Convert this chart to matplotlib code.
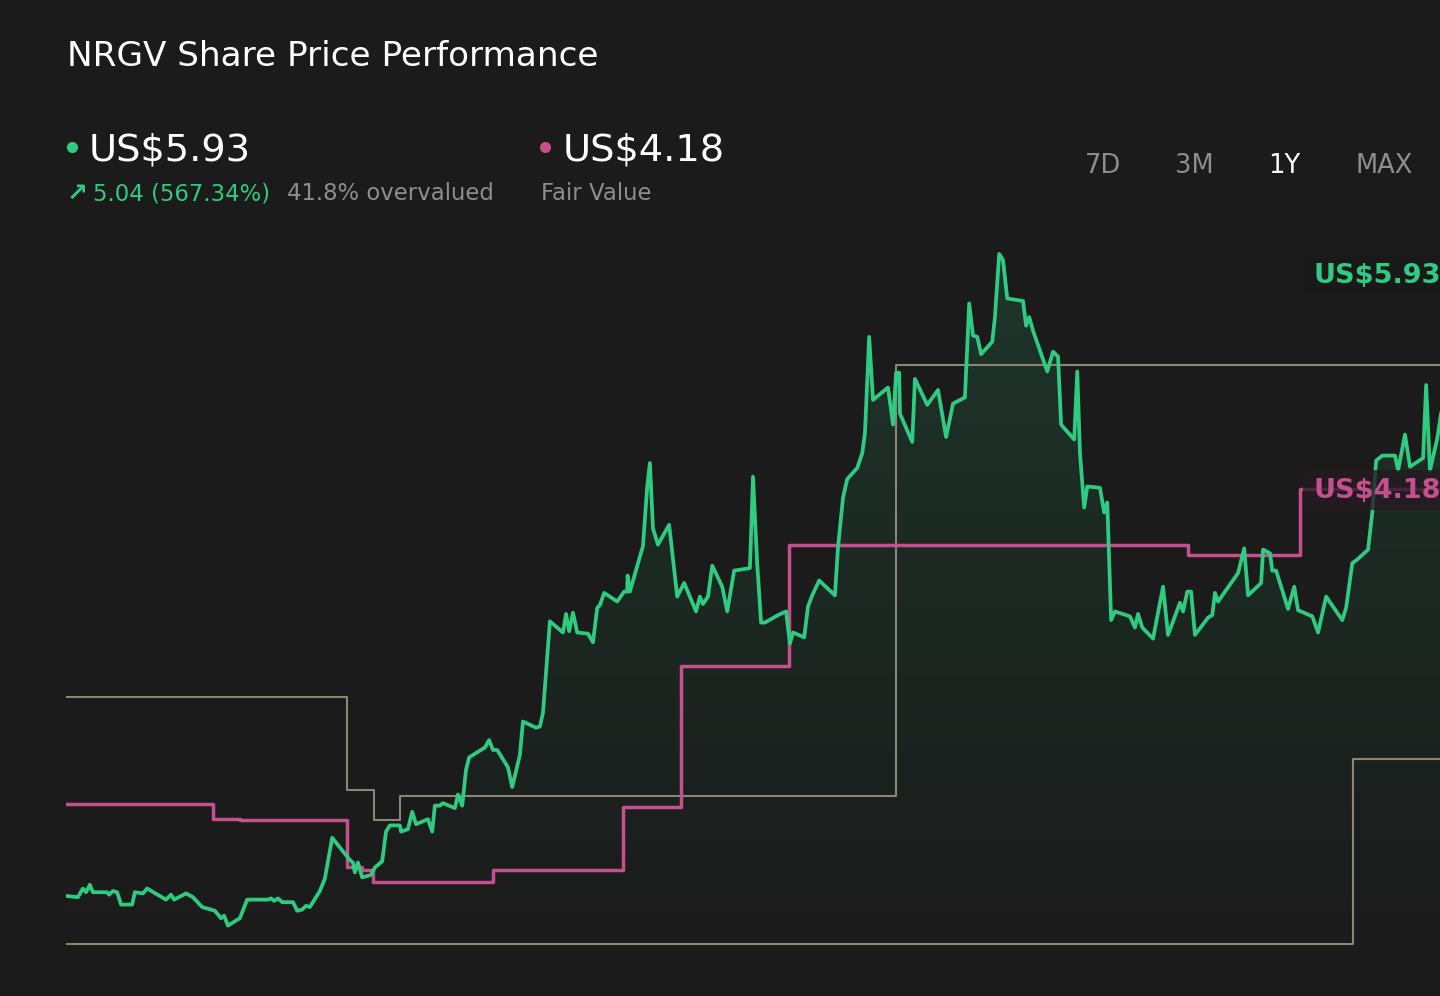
import numpy as np
import matplotlib
matplotlib.use("Agg")
import matplotlib.pyplot as plt
from matplotlib.lines import Line2D
from matplotlib.patches import FancyBboxPatch

# share price, days since start of the 1Y window
price_day = [0, 3.1, 4.4, 5.2, 6.2, 7.0, 10.7, 11.2, 12.2, 13.3,
             14.3, 17.2, 17.9, 20.0, 21.1, 26.0, 27.3, 28.1, 31.2, 33.0,
             35.4, 38.7, 40.3, 41.1, 42.1, 45.2, 47.1, 52.5, 53.3, 54.1,
             55.1, 56.2, 59.0, 60.1, 61.4, 62.4, 63.4, 66.0, 67.3, 69.2,
             73.8, 74.6, 75.1, 75.9, 77.0, 79.3, 80.3, 82.2, 83.2, 84.2,
             86.8, 87.1, 88.9, 90.0, 91.0, 94.1, 95.2, 95.9, 97.2, 98.0,
             101.1, 101.9, 103.0, 104.0, 104.8, 108.9, 110.0, 111.0, 112.1, 114.9,
             116.0, 118.0, 118.8, 122.2, 123.2, 124.0, 125.8, 129.2, 130.0, 130.8,
             131.8, 132.9, 135.7, 137.0, 138.1, 138.8, 139.9, 143.3, 145.1, 145.9,
             146.0, 146.6, 150.0, 151.1, 151.8, 152.6, 153.9, 156.8, 158.9, 160.7,
             163.8, 164.8, 165.6, 166.9, 168.0, 170.6, 171.9, 173.7, 177.8, 178.6,
             179.7, 180.7, 181.7, 185.1, 187.2, 188.2, 189.0, 191.9, 192.9, 194.0,
             195.8, 199.2, 199.9, 200.7, 202.0, 203.1, 205.7, 207.0, 207.7, 208.8,
             209.8, 213.7, 215.0, 215.8, 216.6, 216.8, 220.0, 220.7, 223.9, 226.7,
             228.8, 230.6, 233.7, 234.8, 235.8, 236.9, 237.9, 240.8, 241.5, 242.6,
             243.6, 244.7, 248.8, 249.6, 250.4, 251.4, 255.1, 256.6, 257.9, 258.7,
             262.1, 262.9, 263.6, 264.7, 265.5, 268.8, 269.9, 270.7, 271.7, 272.7,
             276.6, 277.9, 278.7, 279.8, 282.6, 285.2, 286.5, 289.6, 290.4, 291.5,
             292.5, 293.5, 296.9, 298.0, 298.7, 299.5, 304.7, 306.3, 307.3, 310.7,
             311.2, 313.0, 313.6, 314.6, 317.7, 319.3, 320.3, 324.0, 325.5, 327.6,
             331.8, 332.8, 334.4, 335.7, 338.5, 339.6, 340.6, 342.2, 345.5, 346.3,
             348.1, 349.4, 352.8, 353.6, 354.6, 356.5, 363.0]
price = [0.89, 0.88, 0.95, 0.92, 0.98, 0.92, 0.92, 0.90, 0.93, 0.92,
         0.82, 0.82, 0.92, 0.91, 0.95, 0.86, 0.90, 0.86, 0.91, 0.88,
         0.80, 0.77, 0.71, 0.73, 0.65, 0.71, 0.86, 0.86, 0.87, 0.85,
         0.87, 0.84, 0.84, 0.77, 0.78, 0.81, 0.80, 0.93, 1.03, 1.36,
         1.18, 1.16, 1.08, 1.16, 1.04, 1.06, 1.12, 1.17, 1.41, 1.46,
         1.46, 1.41, 1.43, 1.57, 1.47, 1.51, 1.41, 1.62, 1.62, 1.64,
         1.60, 1.71, 1.62, 1.91, 2.01, 2.09, 2.15, 2.07, 2.07, 1.93,
         1.77, 2.03, 2.30, 2.25, 2.26, 2.37, 3.11, 3.02, 3.17, 3.03,
         3.18, 3.02, 3.01, 2.94, 3.22, 3.24, 3.34, 3.27, 3.35, 3.35,
         3.48, 3.35, 3.72, 4.20, 4.39, 3.86, 3.73, 3.89, 3.31, 3.42,
         3.19, 3.31, 3.25, 3.31, 3.56, 3.39, 3.19, 3.52, 3.54, 4.28,
         3.57, 3.10, 3.10, 3.16, 3.19, 2.93, 3.02, 2.98, 3.23, 3.32,
         3.44, 3.34, 3.32, 3.71, 4.11, 4.26, 4.35, 4.47, 4.63, 5.41,
         4.90, 5.00, 4.70, 5.12, 5.12, 4.79, 4.56, 5.07, 4.86, 4.98,
         4.60, 4.87, 4.92, 5.68, 5.42, 5.41, 5.27, 5.37, 5.57, 6.08,
         6.03, 5.72, 5.70, 5.50, 5.57, 5.46, 5.13, 5.29, 5.25, 4.70,
         4.58, 5.13, 4.47, 4.03, 4.20, 4.19, 3.99, 4.07, 3.12, 3.19,
         3.15, 3.06, 3.17, 3.06, 2.97, 3.39, 3.00, 3.26, 3.19, 3.35,
         3.35, 3.00, 3.14, 3.16, 3.34, 3.27, 3.50, 3.70, 3.32, 3.42,
         3.69, 3.66, 3.52, 3.52, 3.21, 3.39, 3.20, 3.15, 3.02, 3.31,
         3.12, 3.22, 3.58, 3.61, 3.69, 3.99, 4.41, 4.45, 4.45, 4.33,
         4.62, 4.36, 4.43, 5.02, 4.33, 4.59, 5.93]

# fair value estimate (step changes)
fv_day = [0, 38.2, 45.2, 73.1, 77.0, 79.8, 111.0, 144.8, 159.9, 188.0, 291.7, 320.8, 363.0]
fv_value = [1.63, 1.51, 1.50, 1.12, 1.10, 1.00, 1.10, 1.61, 2.75, 3.73, 3.65, 4.18, 4.18]

# analyst target range (step changes)
hi_day = [0, 73.1, 80.1, 86.8, 215.8, 363.0]
hi_value = [2.50, 1.75, 1.50, 1.70, 5.18, 5.18]
lo_day = [0, 334.6, 363.0]
lo_value = [0.50, 2.00, 2.00]

title = "NRGV Share Price Performance"
last_price = "US$5.93"
fair_value = "US$4.18"
change_text = "5.04 (567.34%)"
valuation_text = "41.8% overvalued"
periods = ["7D", "3M", "1Y", "MAX"]
active_period = "1Y"

BG = "#1b1b1b"
GREEN = "#2fcb80"
PINK = "#c4508e"
GREY_LINE = "#8b8777"
GREY_TEXT = "#8e8e8e"

W, H = 1440, 996
fig = plt.figure(figsize=(W / 100, H / 100), dpi=100, facecolor=BG)


def fx(x):
    return x / W


def fy(y):
    return 1 - y / H


ax = fig.add_axes([fx(66), 0, 1 - fx(66), 1])
ax.set_facecolor(BG)
ax.set_xlim(0, 357.2)
ax.set_ylim(0.081, 8.133)
ax.axis("off")

# gradient fill under the price line
base = 0.45
poly = ax.fill_between(price_day, price, base, facecolor="none", edgecolor="none")
clip = poly.get_paths()[0]
top = max(price)
grad = np.zeros((200, 1, 4))
grad[:, 0, 0] = 47 / 255
grad[:, 0, 1] = 203 / 255
grad[:, 0, 2] = 128 / 255
grad[:, 0, 3] = np.linspace(0.0, 0.15, 200)
im = ax.imshow(grad, extent=[0, 363, base, top], aspect="auto", origin="lower", zorder=1)
im.set_clip_path(clip, transform=ax.transData)

ax.step(hi_day, hi_value, where="post", color=GREY_LINE, lw=1.5, zorder=2)
ax.step(lo_day, lo_value, where="post", color=GREY_LINE, lw=1.5, zorder=2)
ax.step(fv_day, fv_value, where="post", color=PINK, lw=2.5, zorder=3)
ax.plot(price_day, price, color=GREEN, lw=2.7, zorder=4)

# header texts
fig.text(fx(67), fy(66), title, color="white", fontsize=24.7, va="baseline")
fig.add_artist(Line2D([fx(72)], [fy(147)], marker="o", markersize=7, color=GREEN,
                      transform=fig.transFigure, lw=0))
fig.text(fx(89), fy(160), last_price, color="white", fontsize=27.6, va="baseline")
fig.text(fx(67), fy(201), "\u2197", color=GREEN, fontsize=18, va="baseline", fontweight="bold")
fig.text(fx(93), fy(200), change_text, color=GREEN, fontsize=16.4, va="baseline")
fig.text(fx(287), fy(200), valuation_text, color=GREY_TEXT, fontsize=16.4, va="baseline")

fig.add_artist(Line2D([fx(545)], [fy(147)], marker="o", markersize=7, color=PINK,
                      transform=fig.transFigure, lw=0))
fig.text(fx(563), fy(160), fair_value, color="white", fontsize=27.6, va="baseline")
fig.text(fx(541), fy(200), "Fair Value", color=GREY_TEXT, fontsize=16.4, va="baseline")

period_x = [1085, 1175, 1268, 1355]
for lab, px in zip(periods, period_x):
    col = "white" if lab == active_period else GREY_TEXT
    fig.text(fx(px), fy(173), lab, color=col, fontsize=18.5, va="baseline")

# right side value tags
box_g = FancyBboxPatch((13.03, (H - 293) / 100), 1.6, 0.38,
                       boxstyle="round,pad=0,rounding_size=0.06",
                       transform=fig.dpi_scale_trans, fc="#191919", ec="none", alpha=0.7)
fig.add_artist(box_g)
fig.text(fx(1313), fy(283), last_price, color=GREEN, fontsize=19.5,
         fontweight="bold", va="baseline")

box_p = FancyBboxPatch((13.03, (H - 510) / 100), 1.6, 0.40,
                       boxstyle="round,pad=0,rounding_size=0.06",
                       transform=fig.dpi_scale_trans, fc="#241a20", ec="none", alpha=0.78)
fig.add_artist(box_p)
fig.text(fx(1313), fy(498), fair_value, color=PINK, fontsize=19.5,
         fontweight="bold", va="baseline")

fig.savefig("out.png", dpi=100, facecolor=BG)
